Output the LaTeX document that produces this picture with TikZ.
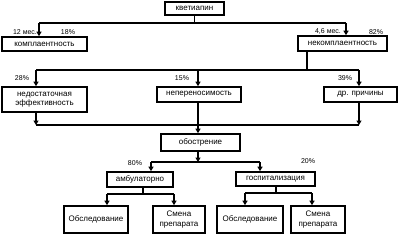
\documentclass[tikz,border=0pt]{standalone}
\usepackage{fontspec}
\setmainfont{Liberation Sans}
\usetikzlibrary{arrows.meta}
\begin{document}
\begin{tikzpicture}[x=1pt,y=-1pt,
 box/.style={draw,line width=1.6pt,inner sep=0pt,align=center,font=\fontsize{8}{9.5}\selectfont},
 ln/.style={line width=1.6pt},
 arr/.style={line width=1.6pt,-{Triangle[width=5pt,length=4.5pt]}},
 lbl/.style={font=\fontsize{7}{8}\selectfont,inner sep=0pt}]
\useasboundingbox (0,0) rectangle (403,236);
% boxes
\node[box,minimum width=59pt,minimum height=13pt] (kv) at (194.5,8.5) {кветиапин};
\node[box,minimum width=85pt,minimum height=14pt] (komp) at (44.5,44) {комплаентность};
\node[box,minimum width=89pt,minimum height=15pt] (nekomp) at (342.5,43.5) {некомплаентность};
\node[box,minimum width=85pt,minimum height=25pt] (nedost) at (44.5,99.5) {недостаточная\\эффективность};
\node[box,minimum width=84pt,minimum height=15pt] (neper) at (199,94.5) {непереносимость};
\node[box,minimum width=73pt,minimum height=15pt] (dr) at (360.5,94.5) {др. причины};
\node[box,minimum width=79pt,minimum height=17pt] (obostr) at (200.5,142.5) {обострение};
\node[box,minimum width=66pt,minimum height=15pt] (amb) at (140,179.5) {амбулаторно};
\node[box,minimum width=79pt,minimum height=14pt] (gosp) at (275.5,179) {госпитализация};
\node[box,minimum width=64pt,minimum height=27pt] (obs1) at (96,219.5) {Обследование};
\node[box,minimum width=52pt,minimum height=27pt] (sm1) at (179,219.5) {Смена\\препарата};
\node[box,minimum width=66pt,minimum height=27pt] (obs2) at (250,219.5) {Обследование};
\node[box,minimum width=54pt,minimum height=27pt] (sm2) at (318,219.5) {Смена\\препарата};
% labels
\node[lbl] (l1) at (25,32) {12 мес.};
\node[lbl] (l2) at (68,32) {18\%};
\node[lbl] (l3) at (328,32) {4,6 мес.};
\node[lbl] (l4) at (376,32) {82\%};
\node[lbl] (l5) at (22,78) {28\%};
\node[lbl] (l6) at (182,78) {15\%};
\node[lbl] (l7) at (345,78) {39\%};
\node[lbl] (l8) at (135,163) {80\%};
\node[lbl] (l9) at (308,161) {20\%};
% junction coordinates
\coordinate (a1) at (39,23);
\coordinate (a2) at (346,23);
\coordinate (b0) at (307,70);
\coordinate (b1) at (36,70);
\coordinate (b2) at (198,70);
\coordinate (b3) at (359,70);
\coordinate (c1) at (36,125);
\coordinate (c3) at (359,125);
\coordinate (d0) at (198,162);
\coordinate (d1) at (151,162);
\coordinate (d2) at (260,162);
\coordinate (e0) at (143,194);
\coordinate (e1) at (107,194);
\coordinate (e2) at (174,194);
\coordinate (f0) at (276,193);
\coordinate (f1) at (245,193);
\coordinate (f2) at (312,193);
% level 1
\draw[ln] (kv.south) -- (kv.south |- a1);
\draw[ln] (a1) -- (a2);
\draw[arr] (a1) -- (a1 |- komp.north);
\draw[arr] (a2) -- (a2 |- nekomp.north);
% level 2
\draw[ln] (b0 |- nekomp.south) -- (b0);
\draw[ln] (b1) -- (b3);
\draw[arr] (b1) -- (b1 |- nedost.north);
\draw[arr] (b2) -- (b2 |- neper.north);
\draw[arr] (b3) -- (b3 |- dr.north);
% level 3
\draw[arr] (c1 |- nedost.south) -- (c1);
\draw[arr] (c3 |- dr.south) -- (c3);
\draw[ln] (c1) -- (c3);
\draw[arr] (b2 |- neper.south) -- (b2 |- obostr.north);
% level 4
\draw[arr] (d0 |- obostr.south) -- (d0);
\draw[ln] (d1) -- (d2);
\draw[arr] (d1) -- (d1 |- amb.north);
\draw[arr] (d2) -- (d2 |- gosp.north);
% level 5
\draw[ln] (amb.south -| e0) -- (e0);
\draw[ln] (e1) -- (e2);
\draw[arr] (e1) -- (e1 |- obs1.north);
\draw[arr] (e2) -- (e2 |- sm1.north);
\draw[ln] (gosp.south -| f0) -- (f0);
\draw[ln] (f1) -- (f2);
\draw[arr] (f1) -- (f1 |- obs2.north);
\draw[arr] (f2) -- (f2 |- sm2.north);
\end{tikzpicture}
\end{document}
